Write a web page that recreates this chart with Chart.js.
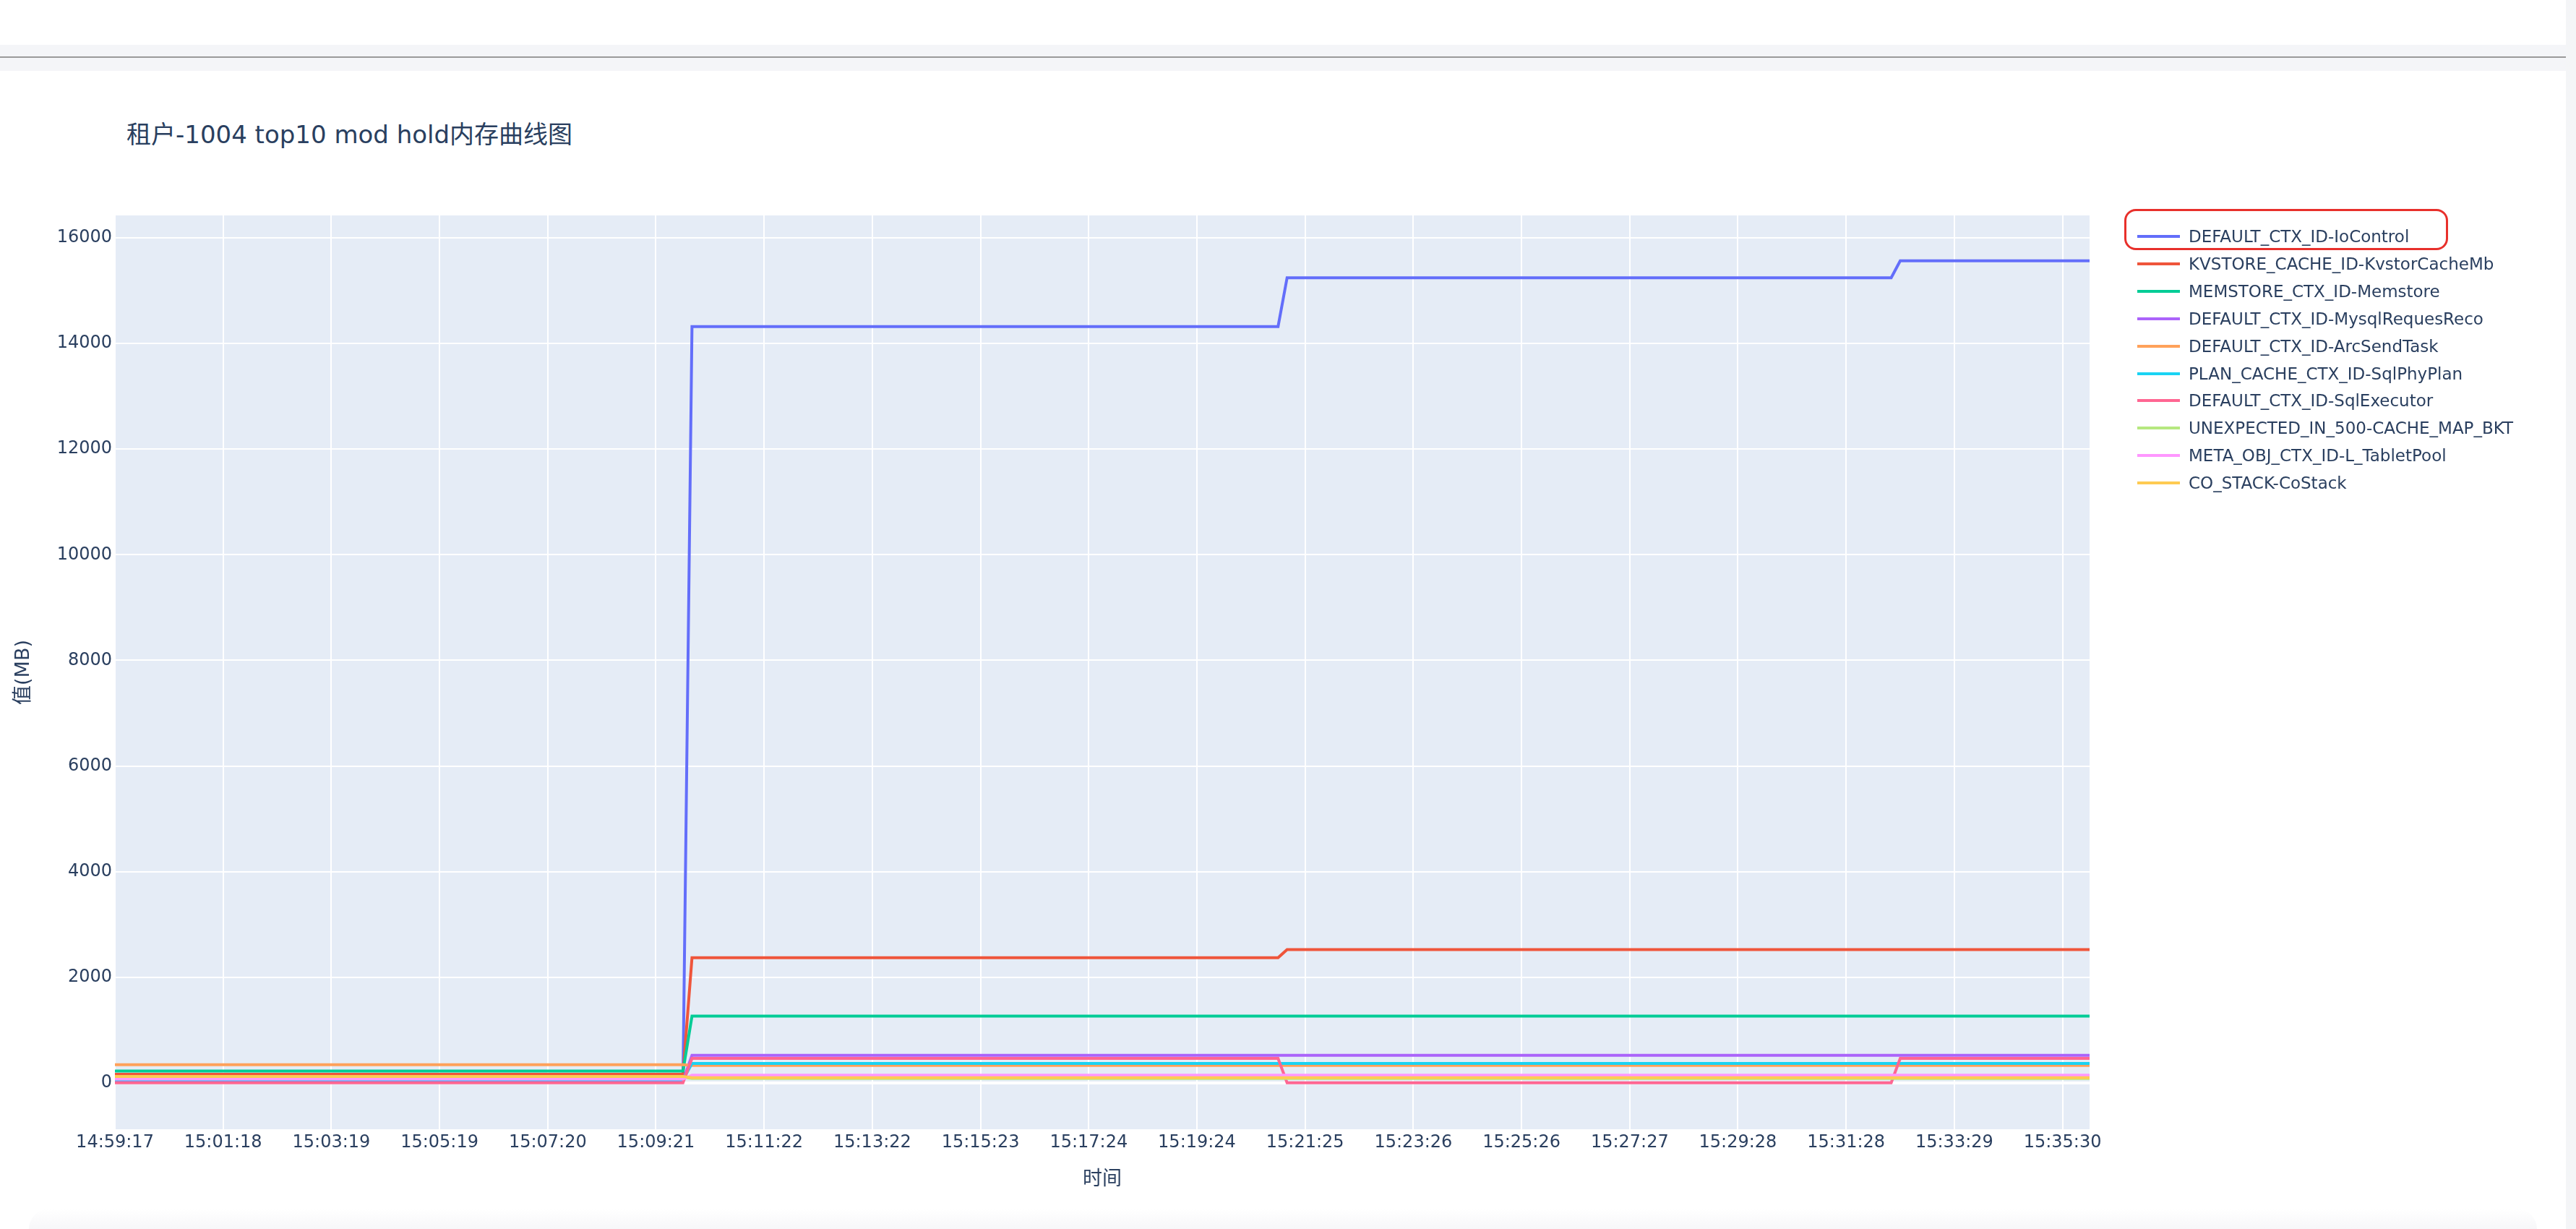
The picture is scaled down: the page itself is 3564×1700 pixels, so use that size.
<!DOCTYPE html>
<html>
<head>
<meta charset="utf-8">
<title>租户-1004 top10 mod hold内存曲线图</title>
<script src="https://cdn.jsdelivr.net/npm/chart.js@4.4.0/dist/chart.umd.min.js"></script>
<style>
  html, body { margin: 0; padding: 0; background: #fff; }
  body {
    width: 3564px; height: 1700px; position: relative; overflow: hidden;
    font-family: "DejaVu Sans", "Noto Sans CJK SC", sans-serif; color: #2a3f5f;
  }
  #topband { position: absolute; left: 0; top: 62px; width: 3550px; height: 36px; background: #f4f5f8; }
  #topline { position: absolute; left: 0; top: 78px; width: 3550px; height: 2px; background: #9a9a9a; }
  #rightstrip { position: absolute; left: 3550px; top: 0; width: 14px; height: 1700px; background: #f4f5f7; }
  #bottomfade { position: absolute; left: 40px; top: 1672px; width: 3470px; height: 28px;
    background: linear-gradient(to bottom, rgba(255,255,255,0), #f7f7f9); border-radius: 30px 30px 0 0; }
  #title { position: absolute; left: 175px; top: 166px; font-size: 34px; line-height: 40px; white-space: nowrap;
    font-family: "DejaVu Sans", "Noto Sans CJK SC", sans-serif; }
  #wrap { position: absolute; left: 0; top: 98px; width: 3548px; height: 1580px; }
  #legend { position: absolute; left: 2957px; top: 0; }
  .item { position: absolute; left: 0; height: 28px; white-space: nowrap; }
  .item .swatch { position: absolute; left: 0; top: 12px; width: 59px; height: 4px; }
  .item .txt { position: absolute; left: 71px; top: 0; line-height: 28px; font-size: 23px; color: #2a3f5f; }
  #mark { position: absolute; left: 2939px; top: 289px; width: 448px; height: 57px; box-sizing: border-box;
    border: 3.5px solid #e8302b; border-radius: 16px; }
</style>
</head>
<body>
<div id="topband"></div>
<div id="topline"></div>
<div id="rightstrip"></div>
<div id="bottomfade"></div>
<div id="title">租户-1004 top10 mod hold内存曲线图</div>
<div id="wrap"><canvas id="chart" width="3548" height="1580"></canvas></div>
<div id="legend"></div>
<div id="mark"></div>

<script>
// x: sample index (one sample ~10 s), y: MB. Only the points where a line changes are listed.
const xTickLabels = ['14:59:17', '15:01:18', '15:03:19', '15:05:19', '15:07:20', '15:09:21', '15:11:22',
  '15:13:22', '15:15:23', '15:17:24', '15:19:24', '15:21:25', '15:23:26', '15:25:26', '15:27:27',
  '15:29:28', '15:31:28', '15:33:29', '15:35:30'];
const tickEvery = 12;
const lastIndex = 219;
const yTicks = [0, 2000, 4000, 6000, 8000, 10000, 12000, 14000, 16000];
const yMin = -876;
const yMax = 16424;

const seriesNames = [
  'DEFAULT_CTX_ID-IoControl',
  'KVSTORE_CACHE_ID-KvstorCacheMb',
  'MEMSTORE_CTX_ID-Memstore',
  'DEFAULT_CTX_ID-MysqlRequesReco',
  'DEFAULT_CTX_ID-ArcSendTask',
  'PLAN_CACHE_CTX_ID-SqlPhyPlan',
  'DEFAULT_CTX_ID-SqlExecutor',
  'UNEXPECTED_IN_500-CACHE_MAP_BKT',
  'META_OBJ_CTX_ID-L_TabletPool',
  'CO_STACK-CoStack'
];
const seriesColors = ['#636efa', '#EF553B', '#00cc96', '#ab63fa', '#FFA15A',
  '#19d3f3', '#FF6692', '#B6E880', '#FF97FF', '#FECB52'];

const ioControl = [[0, 35], [63, 35], [64, 14320], [129, 14320], [130, 15245], [197, 15245], [198, 15565], [219, 15565]];
const kvstorCache = [[0, 165], [63, 165], [64, 2370], [129, 2370], [130, 2525], [219, 2525]];
const memstore = [[0, 225], [63, 225], [64, 1265], [219, 1265]];
const mysqlReques = [[0, 40], [63, 40], [64, 525], [219, 525]];
const arcSendTask = [[0, 346], [63, 346], [64, 333], [219, 333]];
const sqlPhyPlan = [[0, 60], [63, 60], [64, 370], [219, 370]];
const sqlExecutor = [[0, 5], [63, 5], [64, 465], [129, 465], [130, 5], [197, 5], [198, 465], [219, 465]];
const cacheMapBkt = [[0, 110], [63, 110], [64, 86], [219, 86]];
const tabletPool = [[0, 75], [63, 75], [64, 146], [219, 146]];
const coStack = [[0, 122], [63, 122], [64, 100], [219, 100]];

const seriesData = [ioControl, kvstorCache, memstore, mysqlReques, arcSendTask,
  sqlPhyPlan, sqlExecutor, cacheMapBkt, tabletPool, coStack];

const fontColor = '#2a3f5f';
const fontFamily = '"DejaVu Sans", "Noto Sans CJK SC", sans-serif';

// plotly-like grey-blue plot background
const plotBg = {
  id: 'plotBg',
  beforeDraw(chart) {
    const { ctx, chartArea: a } = chart;
    ctx.save();
    ctx.fillStyle = '#E5ECF6';
    ctx.fillRect(a.left, a.top, a.right - a.left, a.bottom - a.top);
    ctx.restore();
  }
};

const chart = new Chart(document.getElementById('chart'), {
  type: 'line',
  data: {
    datasets: seriesData.map((d, i) => ({
      label: seriesNames[i],
      data: d,
      borderColor: seriesColors[i],
      backgroundColor: seriesColors[i],
      borderWidth: 4,
      pointRadius: 0,
      tension: 0,
      fill: false,
      order: seriesData.length - 1 - i
    }))
  },
  options: {
    responsive: false,
    animation: false,
    layout: { padding: { left: 0, top: 200, right: 657, bottom: 0 } },
    plugins: {
      legend: { display: false },
      tooltip: { enabled: false }
    },
    scales: {
      x: {
        type: 'linear',
        min: 0,
        max: lastIndex,
        afterFit(scale) { scale.height = 116; },
        afterBuildTicks(scale) { scale.ticks = xTickLabels.map((_, k) => ({ value: k * tickEvery })); },
        ticks: {
          autoSkip: false, maxRotation: 0, minRotation: 0, padding: 4,
          color: fontColor, font: { family: fontFamily, size: 24 },
          callback: (v) => xTickLabels[Math.round(v / tickEvery)]
        },
        grid: { color: '#ffffff', lineWidth: 2, drawTicks: false },
        border: { display: false },
        title: {
          display: true, text: '时间', color: fontColor,
          font: { family: fontFamily, size: 27 }, padding: { top: 0, bottom: 30 }
        }
      },
      y: {
        min: yMin,
        max: yMax,
        afterFit(scale) { scale.width = 159; },
        afterBuildTicks(scale) { scale.ticks = yTicks.map(v => ({ value: v })); },
        ticks: {
          padding: 4, color: fontColor, font: { family: fontFamily, size: 24 },
          callback: (v) => String(v)
        },
        grid: {
          color: '#ffffff',
          lineWidth: (c) => (c.tick && c.tick.value === 0 ? 4 : 2),
          drawTicks: false
        },
        border: { display: false },
        title: {
          display: true, text: '值(MB)', color: fontColor,
          font: { family: fontFamily, size: 27 }, padding: { top: 17, bottom: 0 }
        }
      }
    }
  },
  plugins: [plotBg]
});

// legend on the right, built from the chart's datasets
const legend = document.getElementById('legend');
chart.data.datasets.forEach((ds, k) => {
  const row = document.createElement('div');
  row.className = 'item';
  row.style.top = (327 - 14 + k * 37.9) + 'px';
  const sw = document.createElement('div');
  sw.className = 'swatch';
  sw.style.background = ds.borderColor;
  const tx = document.createElement('div');
  tx.className = 'txt';
  tx.textContent = ds.label;
  row.appendChild(sw);
  row.appendChild(tx);
  legend.appendChild(row);
});
</script>
</body>
</html>
